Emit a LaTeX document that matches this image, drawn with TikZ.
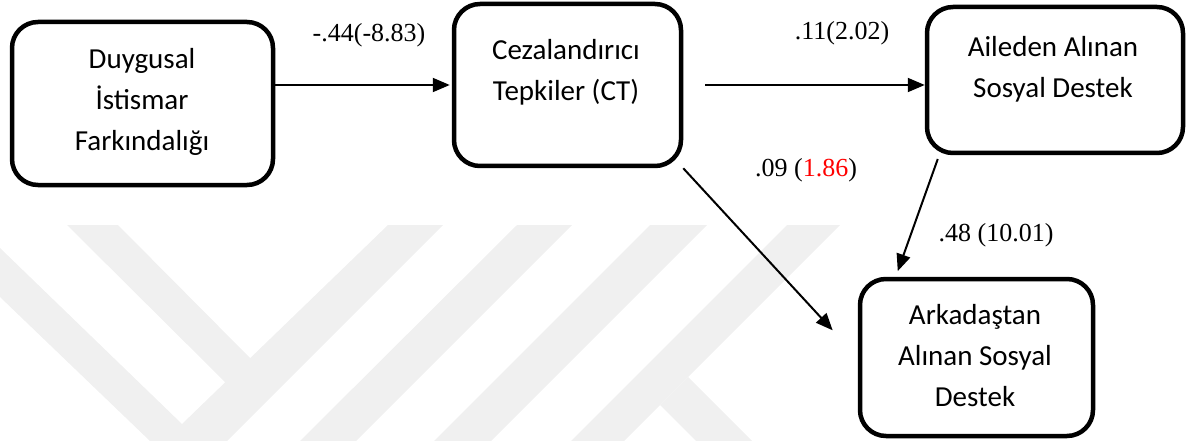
\documentclass[tikz,border=0pt]{standalone}
\usepackage{fontspec}
\setmainfont{Liberation Serif}
\newfontfamily\boxfont{Carlito}
\usetikzlibrary{arrows.meta}

\begin{document}
\begin{tikzpicture}[x=1pt, y=-1pt, line join=round, >={Triangle[length=17pt,width=14pt]},
		box/.style={draw, line width=4.5pt, rounded corners=26pt, inner sep=0pt},
		boxtext/.style={font=\boxfont\fontsize{29}{41}\selectfont, align=center, inner sep=0pt},
		arr/.style={->, line width=2pt}]
	\tikzset{coef/.style={font=\fontsize{26}{30}\selectfont, anchor=base, inner sep=0pt}}
	\useasboundingbox (0,0) rectangle (1197,441);
	\fill[black!6] (0,248) -- (182,424) -- (388,225) -- (443,225) -- (227,441) -- (150,441) -- (0,297) -- cycle;
	\fill[black!6] (67,225) -- (118,225) -- (252,360) -- (227,384) -- cycle;
	\fill[black!6] (517,225) -- (572,225) -- (356,441) -- (300,441) -- cycle;
	\fill[black!6] (650,225) -- (707,225) -- (491,441) -- (434,441) -- cycle;
	\fill[black!6] (787,225) -- (840,225) -- (624,441) -- (571,441) -- cycle;
	\fill[black!6] (688,377) -- (752,441) -- (696,441) -- (660,405) -- cycle;
	\node[box, minimum width=261pt, minimum height=163pt] (dug) at (142.5,103.5) {};
	\node[box, minimum width=227pt, minimum height=162pt] (ct) at (567.5,85) {};
	\node[box, minimum width=256pt, minimum height=146pt] (ail) at (1055,80) {};
	\node[box, minimum width=233pt, minimum height=157pt] (ark) at (976.5,357.5) {};
	\node[boxtext] (dugtext) at (142,102) {Duygusal\\İstismar\\Farkındalığı};
	\node[boxtext] (cttext) at (566,72) {Cezalandırıcı\\Tepkiler (CT)};
	\node[boxtext] (ailtext) at (1053,69) {Aileden Alınan\\Sosyal Destek};
	\node[boxtext] (arktext) at (975,356) {Arkadaştan\\Alınan Sosyal\\Destek};
	\draw[arr, shorten >=2pt] (dug.east |- ct) -- (ct.west);
	\draw[arr, shorten <=22pt] (ct.east) -- (ct.east -| ail.west);
	\draw[arr, shorten >=37pt] (ct.south east) -- (ark.west);
	\draw[arr, shorten <=4pt, shorten >=6pt] (ail.213) -- (ark.135);
	\node[coef] (dugct) at (369,42) {-.44(-8.83)};
	\node[coef] (ctail) at (842,40) {.11(2.02)};
	\node[coef] (ctark) at (806,176) {.09 (\textcolor{red}{1.86})};
	\node[coef] (ailark) at (996,241) {.48 (10.01)};
\end{tikzpicture}
\end{document}
